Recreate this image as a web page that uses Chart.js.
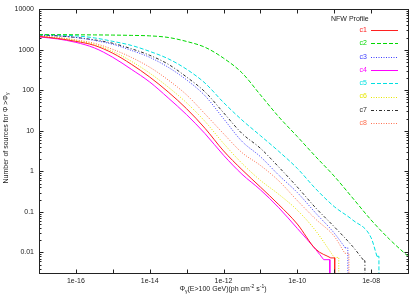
<!DOCTYPE html>
<html>
<head>
<meta charset="utf-8">
<script src="https://cdn.jsdelivr.net/npm/chart.js@4"></script>
<style>
  html, body { margin: 0; padding: 0; background: #fff; }
  #wrap { width: 420px; height: 294px; }
</style>
</head>
<body>
<div id="wrap"><canvas id="chart"></canvas></div>
<script>
// Flux grid (half-decade steps) where the curves were read
const flux = [1e-17, 3.16e-17, 1e-16, 3.16e-16, 1e-15, 3.16e-15, 1e-14, 3.16e-14, 1e-13, 3.16e-13,
              1e-12, 3.16e-12, 1e-11, 3.16e-11, 1e-10, 3.16e-10, 1e-9, 3.16e-9, 1e-8, 3.16e-8, 1e-7];

// N(>Phi) for each concentration model
const c1 = [2130, 1900, 1610, 1280, 820, 440, 212, 91, 35, 11.5, 3.2, 1.1, 0.41, 0.15, 0.05, 0.012];
const c2 = [2350, 2350, 2340, 2320, 2300, 2260, 2200, 2010, 1600, 1150, 620, 270, 77, 22, 7.2, 2.3, 0.76, 0.22, 0.063, 0.021, 0.008];
const c3 = [2310, 2200, 2010, 1700, 1360, 965, 650, 370, 180, 73, 20, 5.5, 2.3, 0.80, 0.30, 0.093, 0.030];
const c4 = [2070, 1850, 1520, 1110, 650, 330, 160, 65, 25, 8.5, 2.5, 0.85, 0.35, 0.126, 0.039, 0.0118];
const c5 = [2350, 2310, 2200, 1960, 1610, 1280, 910, 600, 330, 150, 50, 18.5, 7.6, 3.1, 1.18, 0.37, 0.135, 0.063, 0.023];
const c6 = [2150, 1960, 1700, 1350, 910, 520, 265, 120, 49, 17, 4.9, 1.58, 0.60, 0.27, 0.11, 0.034, 0.0075];
const c7 = [2310, 2200, 2010, 1750, 1440, 1060, 730, 440, 212, 91, 28, 8.6, 3.7, 1.27, 0.41, 0.125, 0.043, 0.014];
const c8 = [2200, 2010, 1750, 1440, 1020, 650, 370, 180, 77, 26, 8.5, 2.9, 1.4, 0.58, 0.19, 0.066, 0.025];

// last step of each curve and the flux where it falls to zero
const tailFlux = [8.1e-10, null, 1.98e-9, 5.2e-10, 1.44e-8, null, 6.4e-9, 1.94e-9];
const tailN    = [0.0073, null, 0.013, 0.0066, 0.008, null, 0.0062, 0.0095];
const cutFlux  = [1.03e-9, null, 2.34e-9, 7.6e-10, 1.63e-8, 1.33e-9, 6.8e-9, 2.5e-9];

const names  = ["c1", "c2", "c3", "c4", "c5", "c6", "c7", "c8"];
const colors = ["#ff2020", "#00d800", "#3c3cff", "#ff00ff", "#00e0e0", "#e6e600", "#303030", "#ff7050"];
const dashes = [[], [4, 2], [1, 1.5], [], [4, 2], [1, 1.5], [3, 2, 1, 2], [1, 1.5]];
const allSeries = [c1, c2, c3, c4, c5, c6, c7, c8];

const yTicks = [0.01, 0.1, 1, 10, 100, 1000, 10000];
const xDecades = [-17, -16, -15, -14, -13, -12, -11, -10, -9, -8, -7];

const FONT = "Liberation Sans, Arial, sans-serif";

// build datasets: main curve + its vertical drop at the end
const datasets = [];
allSeries.forEach((vals, i) => {
  const pts = vals.map((v, k) => ({ x: flux[k], y: v }));
  if (tailFlux[i] !== null) pts.push({ x: tailFlux[i], y: tailN[i] });
  datasets.push({
    label: names[i],
    data: pts,
    borderColor: colors[i],
    borderWidth: 1,
    borderDash: dashes[i],
    pointRadius: 0,
    cubicInterpolationMode: "monotone",
    fill: false
  });
  if (cutFlux[i] !== null) {
    const last = pts[pts.length - 1];
    datasets.push({
      label: names[i] + "-drop",
      data: [{ x: last.x, y: last.y }, { x: cutFlux[i], y: last.y }, { x: cutFlux[i], y: 1e-5 }],
      borderColor: colors[i],
      borderWidth: 1,
      borderDash: dashes[i],
      pointRadius: 0,
      tension: 0,
      fill: false
    });
  }
});

// draw text with sub/superscripts, centred at (cx, cy)
function drawRich(ctx, parts, cx, cy) {
  const base = 7, small = 5;
  let w = 0;
  parts.forEach(p => {
    ctx.font = (p.s ? small : base) + "px " + FONT;
    p.w = ctx.measureText(p.t).width;
    w += p.w;
  });
  let x = cx - w / 2;
  ctx.textAlign = "left";
  ctx.textBaseline = "middle";
  parts.forEach(p => {
    ctx.font = (p.s ? small : base) + "px " + FONT;
    const dy = p.s === "sub" ? 2 : p.s === "sup" ? -2.5 : 0;
    ctx.fillText(p.t, x, cy + dy);
    x += p.w;
  });
}

const framePlugin = {
  id: "frame",
  afterDatasetsDraw(chart) {
    const ctx = chart.ctx, ca = chart.chartArea;
    const xs = chart.scales.x, ys = chart.scales.y;
    const L = Math.round(ca.left) + 0.5, R = Math.round(ca.right) + 0.5;
    const T = Math.round(ca.top) + 0.5, B = Math.round(ca.bottom) + 0.5;
    ctx.save();
    ctx.strokeStyle = "#222";
    ctx.lineWidth = 1;
    ctx.setLineDash([]);
    ctx.strokeRect(L, T, R - L, B - T);
    ctx.beginPath();
    xDecades.forEach(e => {
      const px = Math.round(xs.getPixelForValue(Number("1e" + e))) + 0.5;
      ctx.moveTo(px, B); ctx.lineTo(px, B - 4);
      ctx.moveTo(px, T); ctx.lineTo(px, T + 4);
    });
    for (let e = -3; e <= 4; e++) {
      for (let m = 1; m <= 9; m++) {
        const v = m * Number("1e" + e);
        if (v < ys.min || v > ys.max) continue;
        const py = Math.round(ys.getPixelForValue(v)) + 0.5;
        const len = m === 1 ? 4 : 2;
        ctx.moveTo(L, py); ctx.lineTo(L + len, py);
        ctx.moveTo(R, py); ctx.lineTo(R - len, py);
      }
    }
    ctx.stroke();

    // axis titles
    ctx.fillStyle = "#222";
    drawRich(ctx, [
      { t: "Φ" }, { t: "γ", s: "sub" }, { t: "(E>100 GeV)(ph cm" }, { t: "-2", s: "sup" },
      { t: " s" }, { t: "-1", s: "sup" }, { t: ")" }
    ], 223, 289.5);
    ctx.save();
    ctx.translate(6, 138);
    ctx.rotate(-Math.PI / 2);
    drawRich(ctx, [{ t: "Number of sources for Φ >Φ" }, { t: "γ", s: "sub" }], 0, 0);
    ctx.restore();

    // key
    ctx.font = "7px " + FONT;
    ctx.textBaseline = "middle";
    ctx.textAlign = "left";
    ctx.fillStyle = "#222";
    ctx.fillText("NFW Profile", 331, 19);
    names.forEach((n, i) => {
      const y = 30 + i * 13.3;
      ctx.textAlign = "right";
      ctx.fillStyle = colors[i];
      ctx.fillText(n, 367, y);
      ctx.strokeStyle = colors[i];
      ctx.setLineDash(dashes[i]);
      ctx.beginPath();
      ctx.moveTo(371, Math.round(y) + 0.5);
      ctx.lineTo(398, Math.round(y) + 0.5);
      ctx.stroke();
    });
    ctx.restore();
  }
};

new Chart(document.getElementById("chart"), {
  type: "line",
  data: { datasets },
  options: {
    responsive: true,
    maintainAspectRatio: false,
    animation: false,
    layout: { padding: { top: 7, right: 12, left: 0, bottom: 0 } },
    plugins: { legend: { display: false }, tooltip: { enabled: false } },
    scales: {
      x: {
        type: "logarithmic",
        min: 1e-17,
        max: 1e-7,
        grid: { display: false, drawTicks: false },
        border: { display: false },
        afterBuildTicks: s => { s.ticks = xDecades.map(e => ({ value: Number("1e" + e) })); },
        afterFit: s => { s.height = 21; },
        ticks: {
          autoSkip: false,
          maxRotation: 0,
          padding: 4,
          color: "#222",
          font: { family: FONT, size: 7 },
          callback: v => {
            const e = Math.round(Math.log10(v));
            if (e % 2 !== 0) return "";
            return "1e-" + String(-e).padStart(2, "0");
          }
        }
      },
      y: {
        type: "logarithmic",
        min: 0.0031,
        max: 10000,
        grid: { display: false, drawTicks: false },
        border: { display: false },
        afterBuildTicks: s => { s.ticks = yTicks.map(v => ({ value: v })); },
        afterFit: s => { s.width = 39; },
        ticks: {
          padding: 5,
          color: "#222",
          font: { family: FONT, size: 7 },
          callback: v => String(v)
        }
      }
    }
  },
  plugins: [framePlugin]
});
</script>
</body>
</html>
